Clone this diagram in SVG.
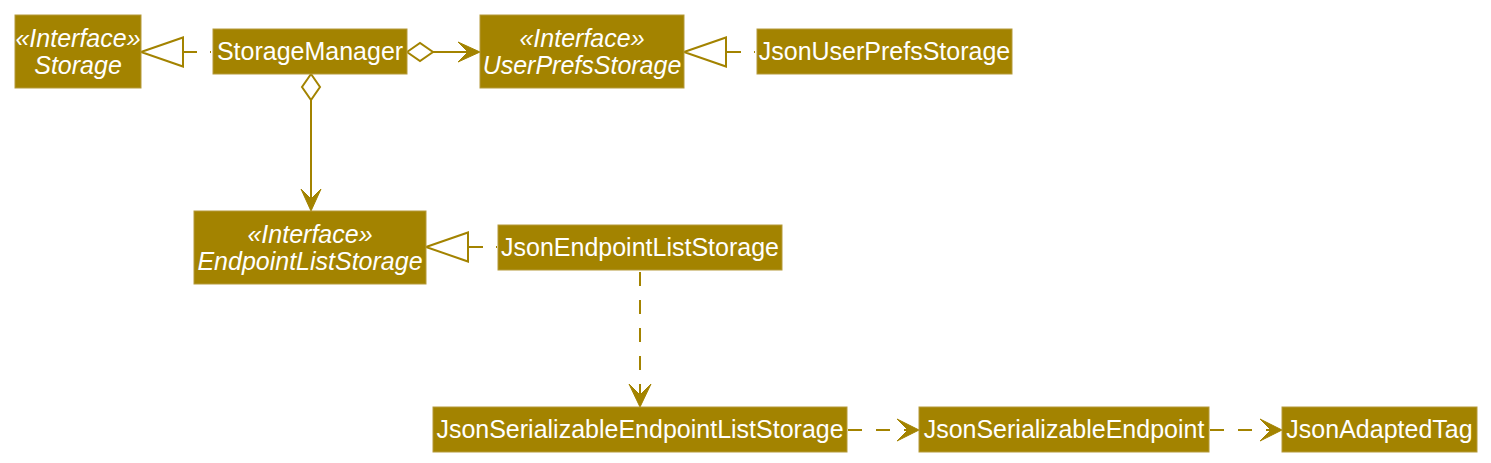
<svg xmlns="http://www.w3.org/2000/svg" width="1491" height="463" viewBox="0 0 1491 463">
<style>
.box{fill:#A38300;stroke:#B59A3A;stroke-width:1}
.t{font-family:"Liberation Sans",Arial,sans-serif;font-size:25px;fill:#FFFFFF;text-anchor:middle}
.i{font-style:italic}
.ln{fill:none;stroke:#A38300;stroke-width:2}
.dash{stroke-dasharray:14 14}
.head{fill:#A38300;stroke:#A38300;stroke-width:1}
.open{fill:#FFFFFF;stroke:#A38300;stroke-width:2}
</style>
<rect width="1491" height="463" fill="#FFFFFF"/>
<g id="connectors">
  <!-- StorageManager realizes Storage -->
  <path class="ln" d="M211 52 L183 52" stroke-dasharray="1 13 14"/>
  <polygon class="open" points="141,52 183,37.5 183,66.5"/>
  <!-- JsonUserPrefsStorage realizes UserPrefsStorage -->
  <path class="ln" d="M755 52 L726 52" stroke-dasharray="1 13 15"/>
  <polygon class="open" points="684,52 726,37.5 726,66.5"/>
  <!-- JsonEndpointListStorage realizes EndpointListStorage -->
  <path class="ln" d="M497 247 L468 247" stroke-dasharray="1 13 15"/>
  <polygon class="open" points="426,247 468,232.5 468,261.5"/>
  <!-- StorageManager aggregation to UserPrefsStorage -->
  <polygon class="open" points="407,52 420,43 433,52 420,61"/>
  <path class="ln" d="M433 52 L478 52"/>
  <polygon class="head" points="480,52 458,42 468,52 458,62"/>
  <!-- StorageManager aggregation to EndpointListStorage -->
  <polygon class="open" points="311,74 302,87 311,100 320,87"/>
  <path class="ln" d="M311 100 L311 209"/>
  <polygon class="head" points="311,211 301,189 311,199 321,189"/>
  <!-- dependency JsonEndpointListStorage -> JsonSerializableEndpointListStorage -->
  <path class="ln dash" d="M640 272 L640 400"/>
  <polygon class="head" points="640,407 629,384 640,395 651,384"/>
  <!-- dependency -> JsonSerializableEndpoint -->
  <path class="ln dash" d="M848 430 L912 430"/>
  <polygon class="head" points="919,430 897,419 908,430 897,441"/>
  <!-- dependency -> JsonAdaptedTag -->
  <path class="ln dash" d="M1210 430 L1275 430"/>
  <polygon class="head" points="1282,430 1260,419 1271,430 1260,441"/>
</g>
<g id="Storage">
  <rect class="box" x="15" y="15" width="126" height="73"/>
  <text class="t i" x="78" y="47">«Interface»</text>
  <text class="t i" x="78" y="74">Storage</text>
</g>
<g id="StorageManager">
  <rect class="box" x="213" y="29" width="194" height="45"/>
  <text class="t" x="310" y="60">StorageManager</text>
</g>
<g id="UserPrefsStorage">
  <rect class="box" x="480" y="15" width="204" height="73"/>
  <text class="t i" x="582" y="47">«Interface»</text>
  <text class="t i" x="582" y="74">UserPrefsStorage</text>
</g>
<g id="JsonUserPrefsStorage">
  <rect class="box" x="757" y="29" width="255" height="45"/>
  <text class="t" x="884.5" y="60">JsonUserPrefsStorage</text>
</g>
<g id="EndpointListStorage">
  <rect class="box" x="194" y="211" width="232" height="73"/>
  <text class="t i" x="310" y="243">«Interface»</text>
  <text class="t i" x="310" y="270">EndpointListStorage</text>
</g>
<g id="JsonEndpointListStorage">
  <rect class="box" x="498" y="225" width="284" height="45"/>
  <text class="t" x="640" y="256">JsonEndpointListStorage</text>
</g>
<g id="JsonSerializableEndpointListStorage">
  <rect class="box" x="433" y="407" width="414" height="45"/>
  <text class="t" x="640" y="438">JsonSerializableEndpointListStorage</text>
</g>
<g id="JsonSerializableEndpoint">
  <rect class="box" x="919" y="407" width="290" height="45"/>
  <text class="t" x="1064" y="438">JsonSerializableEndpoint</text>
</g>
<g id="JsonAdaptedTag">
  <rect class="box" x="1282" y="407" width="195" height="45"/>
  <text class="t" x="1379.5" y="438">JsonAdaptedTag</text>
</g>
</svg>
